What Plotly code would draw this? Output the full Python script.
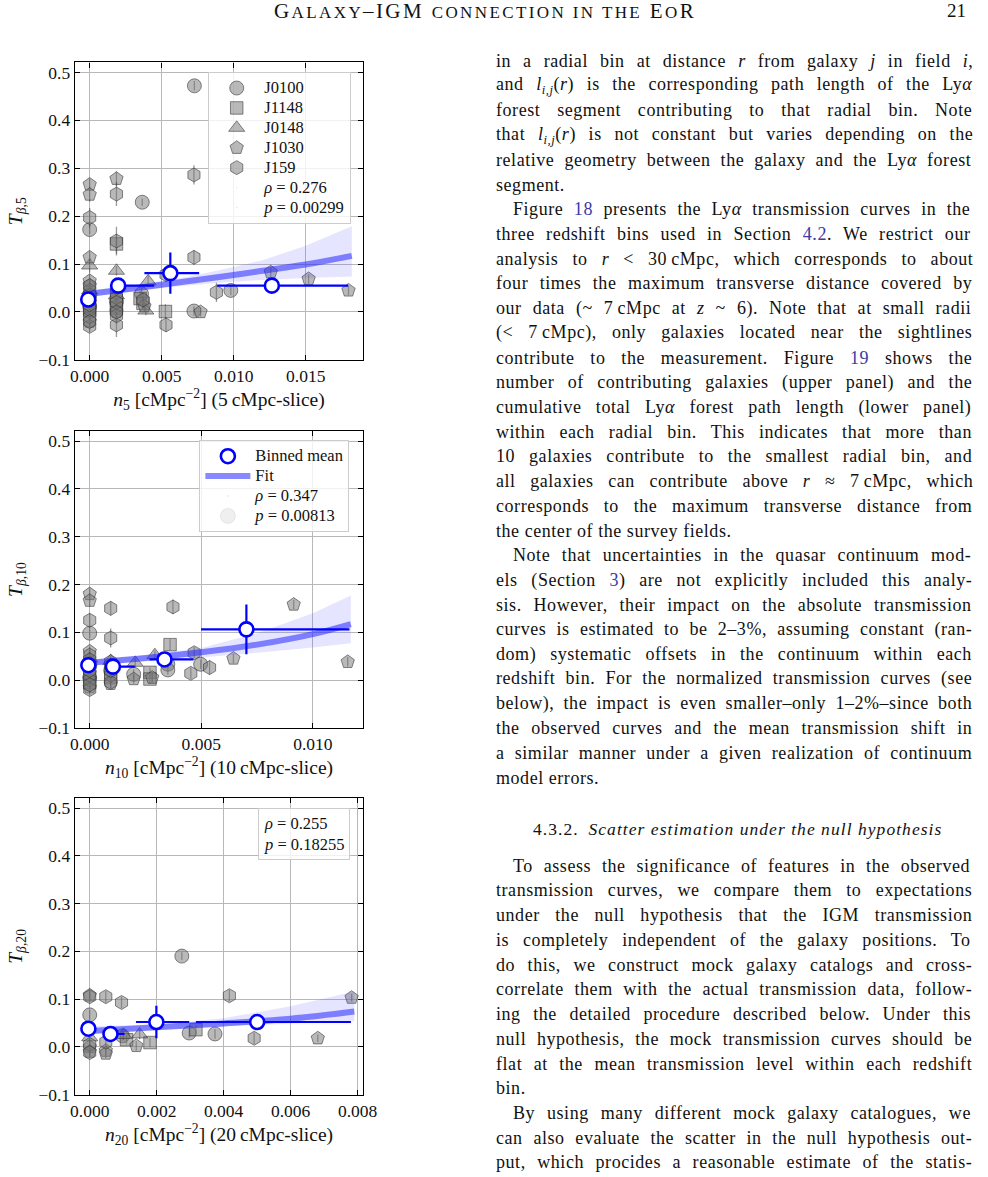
import re
import html
import plotly.graph_objects as go

W, H = 988, 1177


def px(v):
    return v / W


def py(v):
    return 1 - v / H


# ---------------------------------------------------------------- data
fields = ["J0100", "J1148", "J0148", "J1030", "J159"]

# panel 1 : T_beta,5 vs n5
p1_field = (["J0100"] * 9 + ["J1148"] * 6 + ["J0148"] * 6 + ["J1030"] * 14 + ["J159"] * 29)
p1_x = [0.0, 0.00365, 0.00727, 0.00724, 0.0098, 0.0036, 0.0, 0.0, 0.00186,
        0.00186, 0.00526, 0.0035, 0.0, 0.00186, 0.0037,
        0.0, 0.00186, 0.00406, 0.0039, 0.0, 0.00186,
        0.0, 0.0, 0.0, 0.00186, 0.0077, 0.01257, 0.0152, 0.01797, 0.0038, 0.0, 0.0, 0.00186, 0.0, 0.0,
        0.0, 0.00186, 0.00186, 0.00724, 0.00724, 0.0088, 0.0053, 0.00186, 0.0, 0.0053,
        0.0, 0.0, 0.0, 0.0, 0.0, 0.00186, 0.00186, 0.00186, 0.00186, 0.0037,
        0.0, 0.0, 0.0, 0.0, 0.0, 0.0, 0.00186, 0.00186, 0.00186]
p1_y = [0.172, 0.229, 0.472, 0.002, 0.045, 0.038, 0.035, 0.012, 0.022,
        0.142, 0.001, 0.028, 0.003, 0.008, 0.018,
        0.097, 0.086, 0.064, 0.003, 0.045, 0.035,
        0.266, 0.245, 0.114, 0.278, 0.0, 0.083, 0.069, 0.045, 0.012, 0.055, -0.02, 0.0, 0.065, 0.02,
        0.197, 0.246, 0.148, 0.286, 0.114, 0.041, -0.027, -0.027, -0.03, 0.078,
        0.0, 0.028, 0.045, -0.01, 0.01, 0.04, 0.012, 0.05, -0.008, 0.025,
        0.005, 0.015, 0.035, 0.055, -0.02, 0.025, 0.03, 0.02, 0.0]
p1_err = [0.01, 0.008, 0.01, 0.01, 0.01, 0.012, 0.01, 0.01, 0.01,
          0.02, 0.015, 0.015, 0.01, 0.01, 0.012,
          0.015, 0.01, 0.012, 0.01, 0.01, 0.01,
          0.012, 0.015, 0.012, 0.015, 0.01, 0.01, 0.01, 0.01, 0.012, 0.012, 0.012, 0.012, 0.012, 0.012,
          0.02, 0.025, 0.03, 0.02, 0.015, 0.02, 0.015, 0.025, 0.012, 0.015,
          0.015, 0.015, 0.015, 0.015, 0.015, 0.015, 0.015, 0.015, 0.015, 0.015,
          0.012, 0.012, 0.012, 0.012, 0.012, 0.012, 0.012, 0.012, 0.012]

# panel 2 : T_beta,10 vs n10
p2_field = (["J0100"] * 8 + ["J1148"] * 5 + ["J0148"] * 4 + ["J1030"] * 11 + ["J159"] * 20)
p2_x = [0.0, 0.0035, 0.0035, 0.00497, 0.00197, 0.0, 0.00094, 0.0,
        0.0036, 0.0027, 0.0027, 0.0, 0.00094,
        0.00204, 0.00292, 0.0, 0.00094,
        0.0, 0.0, 0.00197, 0.0028, 0.00644, 0.00914, 0.01156, 0.0, 0.0, 0.0, 0.00094,
        0.0, 0.0, 0.00094, 0.00094, 0.00373, 0.00468, 0.00453, 0.00537, 0.0, 0.0, 0.0, 0.0,
        0.00094, 0.00094, 0.00094, 0.0, 0.0, 0.0, 0.00094, 0.00094]
p2_y = [0.098, 0.033, 0.021, 0.033, 0.012, 0.03, 0.02, 0.005,
        0.074, 0.016, 0.002, -0.005, 0.005,
        0.036, 0.052, 0.045, 0.04,
        0.18, 0.166, 0.002, 0.005, 0.045, 0.158, 0.038, 0.06, 0.015, -0.015, -0.008,
        0.125, 0.052, 0.150, 0.088, 0.153, 0.057, 0.014, 0.026, 0.035, 0.0, -0.02, 0.01,
        0.03, 0.01, -0.005, 0.02, -0.01, 0.042, 0.02, 0.038]
p2_err = [0.01, 0.01, 0.01, 0.01, 0.01, 0.01, 0.01, 0.01,
          0.012, 0.01, 0.01, 0.01, 0.01,
          0.01, 0.01, 0.01, 0.01,
          0.012, 0.012, 0.01, 0.01, 0.01, 0.01, 0.01, 0.01, 0.01, 0.01, 0.01,
          0.015, 0.012, 0.015, 0.02, 0.015, 0.012, 0.012, 0.015, 0.012, 0.012, 0.012, 0.012,
          0.012, 0.012, 0.012, 0.01, 0.01, 0.01, 0.01, 0.01]

# panel 3 : T_beta,20 vs n20
p3_field = (["J0100"] * 5 + ["J1148"] * 3 + ["J0148"] * 3 + ["J1030"] * 8 + ["J159"] * 8)
p3_x = [0.0, 0.00098, 0.00275, 0.00297, 0.00374,
        0.0018, 0.00317, 0.0011,
        0.00101, 0.00149, 0.0,
        0.0, 0.00048, 0.00048, 0.00139, 0.00681, 0.00782, 0.0, 0.0,
        0.0, 0.00048, 0.00095, 0.00417, 0.00491, 0.0, 0.0, 0.00048]
p3_y = [0.067, 0.023, 0.19, 0.029, 0.027,
        0.009, 0.036, 0.015,
        0.025, 0.026, 0.02,
        0.108, -0.008, -0.014, 0.002, 0.018, 0.103, 0.0, -0.01,
        0.105, 0.105, 0.093, 0.107, 0.018, 0.005, -0.012, 0.01]
p3_err = [0.01, 0.01, 0.008, 0.01, 0.01,
          0.01, 0.01, 0.01,
          0.01, 0.01, 0.01,
          0.01, 0.01, 0.01, 0.01, 0.008, 0.008, 0.01, 0.01,
          0.012, 0.012, 0.012, 0.012, 0.012, 0.01, 0.01, 0.01]

# binned means
b1_x = [-0.0001, 0.00198, 0.0056, 0.01265]
b1_y = [0.026, 0.055, 0.081, 0.055]
b1_xm = [0.0001, 0.0003, 0.0018, 0.0038]
b1_xp = [0.0001, 0.0025, 0.0020, 0.0053]
b1_ye = [0.006, 0.008, 0.043, 0.006]

b2_x = [-0.00006, 0.00104, 0.00335, 0.00702]
b2_y = [0.031, 0.028, 0.043, 0.106]
b2_xm = [0.0001, 0.0003, 0.00067, 0.00203]
b2_xp = [0.0001, 0.00098, 0.0013, 0.00462]
b2_ye = [0.006, 0.006, 0.006, 0.052]

b3_x = [-0.00004, 0.00062, 0.00199, 0.005]
b3_y = [0.038, 0.027, 0.052, 0.052]
b3_xm = [0.0001, 0.0002, 0.00061, 0.00183]
b3_xp = [0.0001, 0.00042, 0.00098, 0.0028]
b3_ye = [0.015, 0.005, 0.034, 0.006]

# fits and confidence bands
f1_x = [0.0, 0.003, 0.006, 0.009, 0.012, 0.015, 0.0182]
f1_y = [0.038, 0.049, 0.061, 0.073, 0.086, 0.099, 0.117]
f1_hi = [0.045, 0.056, 0.069, 0.087, 0.108, 0.138, 0.179]
f1_lo = [0.032, 0.043, 0.053, 0.061, 0.067, 0.071, 0.074]

f2_x = [0.0, 0.0025, 0.005, 0.0075, 0.010, 0.0117]
f2_y = [0.036, 0.046, 0.058, 0.074, 0.096, 0.117]
f2_hi = [0.042, 0.052, 0.067, 0.098, 0.140, 0.177]
f2_lo = [0.031, 0.039, 0.047, 0.057, 0.068, 0.077]

f3_x = [0.0, 0.002, 0.004, 0.006, 0.0079]
f3_y = [0.033, 0.041, 0.049, 0.059, 0.074]
f3_hi = [0.043, 0.047, 0.060, 0.085, 0.116]
f3_lo = [0.027, 0.036, 0.043, 0.049, 0.053]

rho_text = ["0.276", "0.347", "0.255"]
p_text = ["0.00299", "0.00813", "0.18255"]

x1_ticks = [0.0, 0.005, 0.010, 0.015]
x2_ticks = [0.0, 0.005, 0.010]
x3_ticks = [0.0, 0.002, 0.004, 0.006, 0.008]
y_ticks = [-0.1, 0.0, 0.1, 0.2, 0.3, 0.4, 0.5]

x_titles = ["<i>n</i><sub>5</sub> [cMpc<sup>−2</sup>] (5\u2009cMpc-slice)",
            "<i>n</i><sub>10</sub> [cMpc<sup>−2</sup>] (10\u2009cMpc-slice)",
            "<i>n</i><sub>20</sub> [cMpc<sup>−2</sup>] (20\u2009cMpc-slice)"]
y_titles = ["<i>T</i><sub><i>β</i>,5</sub>",
            "<i>T</i><sub><i>β</i>,10</sub>",
            "<i>T</i><sub><i>β</i>,20</sub>"]

LINK = '<span style="color:#3a3aa8">{}</span>'
body_lines = [
    "in a radial bin at distance <i>r</i> from galaxy <i>j</i> in field <i>i</i>,",
    "and <i>l</i><sub><i>i,j</i></sub>(<i>r</i>) is the corresponding path length of the Ly<i>α</i>",
    "forest segment contributing to that radial bin. Note",
    "that <i>l</i><sub><i>i,j</i></sub>(<i>r</i>) is not constant but varies depending on the",
    "relative geometry between the galaxy and the Ly<i>α</i> forest",
    "segment.",
    "Figure " + LINK.format("18") + " presents the Ly<i>α</i> transmission curves in the",
    "three redshift bins used in Section " + LINK.format("4.2") + ". We restrict our",
    "analysis to <i>r</i> &lt; 30\u2009cMpc, which corresponds to about",
    "four times the maximum transverse distance covered by",
    "our data (~ 7\u2009cMpc at <i>z</i> ~ 6). Note that at small radii",
    "(&lt; 7\u2009cMpc), only galaxies located near the sightlines",
    "contribute to the measurement. Figure " + LINK.format("19") + " shows the",
    "number of contributing galaxies (upper panel) and the",
    "cumulative total Ly<i>α</i> forest path length (lower panel)",
    "within each radial bin. This indicates that more than",
    "10 galaxies contribute to the smallest radial bin, and",
    "all galaxies can contribute above <i>r</i> ≈ 7\u2009cMpc, which",
    "corresponds to the maximum transverse distance from",
    "the center of the survey fields.",
    "Note that uncertainties in the quasar continuum mod-",
    "els (Section " + LINK.format("3") + ") are not explicitly included this analy-",
    "sis. However, their impact on the absolute transmission",
    "curves is estimated to be 2–3%, assuming constant (ran-",
    "dom) systematic offsets in the continuum within each",
    "redshift bin. For the normalized transmission curves (see",
    "below), the impact is even smaller–only 1–2%–since both",
    "the observed curves and the mean transmission shift in",
    "a similar manner under a given realization of continuum",
    "model errors.",
    "To assess the significance of features in the observed",
    "transmission curves, we compare them to expectations",
    "under the null hypothesis that the IGM transmission",
    "is completely independent of the galaxy positions. To",
    "do this, we construct mock galaxy catalogs and cross-",
    "correlate them with the actual transmission data, follow-",
    "ing the detailed procedure described below. Under this",
    "null hypothesis, the mock transmission curves should be",
    "flat at the mean transmission level within each redshift",
    "bin.",
    "By using many different mock galaxy catalogues, we",
    "can also evaluate the scatter in the null hypothesis out-",
    "put, which procides a reasonable estimate of the statis-",
]
para_first = {6, 20, 30, 40}
para_last = {5, 19, 29, 39}
heading = "4.3.2.\u2002<i>Scatter estimation under the null hypothesis</i>"

# ---------------------------------------------------------------- style
SERIF = "Liberation Serif"
symbols = {"J0100": "circle", "J1148": "square", "J0148": "triangle-up",
           "J1030": "pentagon", "J159": "hexagon"}
sizes = {"J0100": 14, "J1148": 12.5, "J0148": 14, "J1030": 14, "J159": 14}
GREY_FILL = "rgba(120,120,120,0.52)"
GREY_EDGE = "rgba(45,45,45,0.55)"
BLUE = "#0000ff"

XL, XR = 72, 366
PANEL_Y = [(63, 363), (435, 734), (805, 1104)]
X_RANGES = [[-0.00104, 0.0190], [-0.000673, 0.01226], [-0.000449, 0.00817]]
Y_RANGE = [-0.1, 0.5207]

fig = go.Figure()

panels = [
    (p1_field, p1_x, p1_y, p1_err, b1_x, b1_y, b1_xm, b1_xp, b1_ye, f1_x, f1_y, f1_hi, f1_lo),
    (p2_field, p2_x, p2_y, p2_err, b2_x, b2_y, b2_xm, b2_xp, b2_ye, f2_x, f2_y, f2_hi, f2_lo),
    (p3_field, p3_x, p3_y, p3_err, b3_x, b3_y, b3_xm, b3_xp, b3_ye, f3_x, f3_y, f3_hi, f3_lo),
]


def lname(t):
    return '<span style="font-size:16.5px">' + t + '</span>'


for k, (pf, pxs, pys, pes, bx, by, bxm, bxp, bye, fx, fy, fhi, flo) in enumerate(panels):
    xa = "x" if k == 0 else "x%d" % (k + 1)
    ya = "y" if k == 0 else "y%d" % (k + 1)
    for f in fields:
        idx = [i for i, v in enumerate(pf) if v == f]
        fig.add_trace(go.Scatter(
            x=[pxs[i] for i in idx], y=[pys[i] for i in idx],
            mode="markers", name=lname(f),
            marker=dict(symbol=symbols[f], size=sizes[f], color=GREY_FILL,
                        line=dict(color=GREY_EDGE, width=1)),
            error_y=dict(type="data", array=[pes[i] for i in idx], color="rgba(70,70,70,0.55)",
                         thickness=1.3, width=0),
            xaxis=xa, yaxis=ya, showlegend=(k == 0), legend="legend", legendrank=fields.index(f) + 1,
            hoverinfo="skip"))
    fig.add_trace(go.Scatter(
        x=fx + fx[::-1], y=fhi + flo[::-1], mode="lines", fill="toself",
        fillcolor="rgba(70,70,255,0.14)", line=dict(width=0), showlegend=False,
        xaxis=xa, yaxis=ya, hoverinfo="skip"))
    fig.add_trace(go.Scatter(
        x=fx, y=fy, mode="lines", line=dict(color="rgba(40,40,255,0.55)", width=6, shape="spline"),
        name=lname("Fit"), showlegend=(k == 1), legend="legend2", legendrank=2,
        xaxis=xa, yaxis=ya, hoverinfo="skip"))
    fig.add_trace(go.Scatter(
        x=bx, y=by, mode="markers", name=lname("Binned mean"),
        marker=dict(symbol="circle", size=14, color="white", line=dict(color=BLUE, width=2.6)),
        error_x=dict(type="data", symmetric=False, array=bxp, arrayminus=bxm, color=BLUE,
                     thickness=2.2, width=0),
        error_y=dict(type="data", array=bye, color=BLUE, thickness=2.2, width=0),
        showlegend=(k == 1), legend="legend2", legendrank=1,
        xaxis=xa, yaxis=ya, hoverinfo="skip"))

fig.add_trace(go.Scatter(x=[None], y=[None], mode="markers", marker=dict(size=2, opacity=0),
                         name=lname("<i>ρ</i> = " + rho_text[0]), legend="legend", legendrank=6,
                         xaxis="x", yaxis="y", showlegend=True))
fig.add_trace(go.Scatter(x=[None], y=[None], mode="markers", marker=dict(size=2, opacity=0),
                         name=lname("<i>p</i> = " + p_text[0]), legend="legend", legendrank=7,
                         xaxis="x", yaxis="y", showlegend=True))
fig.add_trace(go.Scatter(x=[None], y=[None], mode="markers", marker=dict(size=2, opacity=0),
                         name=lname("<i>ρ</i> = " + rho_text[1]), legend="legend2", legendrank=3,
                         xaxis="x2", yaxis="y2", showlegend=True))
fig.add_trace(go.Scatter(x=[None], y=[None], mode="markers",
                         marker=dict(size=15, color="rgba(128,128,128,0.13)",
                                     line=dict(color="rgba(90,90,90,0.1)", width=1)),
                         name=lname("<i>p</i> = " + p_text[1]), legend="legend2", legendrank=4,
                         xaxis="x2", yaxis="y2", showlegend=True))

# ---------------------------------------------------------------- axes
axis_font = dict(family=SERIF, size=17.5, color="#111111")
title_font = dict(family=SERIF, size=19.5, color="#111111")
x_tick_sets = [x1_ticks, x2_ticks, x3_ticks]
layout_axes = {}
for k in range(3):
    top, bot = PANEL_Y[k]
    xs = "xaxis" if k == 0 else "xaxis%d" % (k + 1)
    ys = "yaxis" if k == 0 else "yaxis%d" % (k + 1)
    common = dict(showline=True, linecolor="black", linewidth=1.1, mirror="ticks",
                  ticks="inside", ticklen=5, tickcolor="black", tickwidth=1,
                  showgrid=True, gridcolor="#b8b8b8", gridwidth=1, zeroline=False,
                  tickfont=axis_font)
    layout_axes[xs] = dict(common, domain=[px(XL), px(XR)], range=X_RANGES[k],
                           anchor="y" if k == 0 else "y%d" % (k + 1),
                           tickvals=x_tick_sets[k], tickformat=".3f",
                           title=dict(text=x_titles[k], font=title_font, standoff=6))
    layout_axes[ys] = dict(common, domain=[py(bot), py(top)], range=Y_RANGE,
                           anchor="x" if k == 0 else "x%d" % (k + 1),
                           tickvals=y_ticks, tickformat=".1f",
                           title=dict(text=y_titles[k], font=title_font, standoff=10))

legend_common = dict(xanchor="left", yanchor="top", bgcolor="rgba(255,255,255,0.8)",
                     bordercolor="#cccccc", borderwidth=1,
                     font=dict(family=SERIF, size=13, color="#111111"),
                     itemwidth=45, tracegroupgap=0, traceorder="normal")

# ---------------------------------------------------------------- text column
TW = {' ': 250, '!': 333, '(': 333, ')': 333, ',': 250, '-': 333, '.': 250, ':': 278, ';': 278,
      '<': 564, '>': 564, '=': 564, '%': 833, '~': 541, '≈': 549, '–': 500, '−': 564,
      '\u2009': 200, '\u2002': 500, 'α': 520, 'ρ': 500, 'β': 500,
      'a': 444, 'b': 500, 'c': 444, 'd': 500, 'e': 444, 'f': 333, 'g': 500, 'h': 500, 'i': 278,
      'j': 278, 'k': 500, 'l': 278, 'm': 778, 'n': 500, 'o': 500, 'p': 500, 'q': 500, 'r': 333,
      's': 389, 't': 278, 'u': 500, 'v': 500, 'w': 722, 'x': 500, 'y': 500, 'z': 444,
      'A': 722, 'B': 667, 'C': 667, 'D': 722, 'E': 611, 'F': 556, 'G': 722, 'H': 722, 'I': 333,
      'J': 389, 'K': 722, 'L': 611, 'M': 889, 'N': 722, 'O': 722, 'P': 556, 'Q': 722, 'R': 667,
      'S': 556, 'T': 611, 'U': 722, 'V': 722, 'W': 944, 'X': 722, 'Y': 722, 'Z': 611}
BODY_FS = 18
LS = 0.55


def est_width(markup, fs, ls):
    total, nchar, nspace, depth = 0.0, 0, 0, 0
    for tok in re.split(r"(<[^>]+>)", markup):
        if not tok:
            continue
        if tok.startswith("<"):
            t = tok.lower()
            if t.startswith("<sub") or t.startswith("<sup"):
                depth += 1
            elif t.startswith("</sub") or t.startswith("</sup"):
                depth -= 1
            continue
        sc = 0.7 if depth else 1.0
        for ch in html.unescape(tok):
            total += TW.get(ch, 500) * fs * sc / 1000.0
            nchar += 1
            if ch == " ":
                nspace += 1
    return total + nchar * ls, nspace


TEXT_L, TEXT_R, INDENT = 498.7, 975.0, 18.0
annotations = []
for i, line in enumerate(body_lines):
    if i < 30:
        yc = 60 + i * 24.93
    else:
        yc = 871.7 + (i - 30) * 24.93
    x0 = TEXT_L + (INDENT if i in para_first else 0)
    nat, nsp = est_width(line, BODY_FS, LS)
    ws = 0.0
    if i not in para_last and nsp > 0:
        ws = (TEXT_R - x0 - nat) / nsp
    txt = '<span style="letter-spacing:%.2fpx;word-spacing:%.2fpx">%s</span>' % (LS, ws, line)
    annotations.append(dict(text=txt, x=px(x0), y=py(yc + 1.5), xref="paper", yref="paper",
                            xanchor="left", yanchor="middle", showarrow=False,
                            font=dict(family=SERIF, size=BODY_FS, color="#111111")))

annotations.append(dict(text='<span style="letter-spacing:1.05px">' + heading + '</span>',
                        x=px(747), y=py(836.5), xref="paper", yref="paper",
                        xanchor="center", yanchor="middle", showarrow=False,
                        font=dict(family=SERIF, size=17.5, color="#111111")))

SC = '<span style="font-size:17px">{}</span>'
header = ('G' + SC.format('ALAXY') + '–IGM ' + SC.format('CONNECTION IN THE') + ' E' +
          SC.format('O') + 'R')
annotations.append(dict(text='<span style="letter-spacing:2.4px">' + header + '</span>',
                        x=px(490), y=py(11), xref="paper", yref="paper",
                        xanchor="center", yanchor="middle", showarrow=False,
                        font=dict(family=SERIF, size=21, color="#111111")))
annotations.append(dict(text="21", x=px(982), y=py(11), xref="paper", yref="paper",
                        xanchor="right", yanchor="middle", showarrow=False,
                        font=dict(family=SERIF, size=19, color="#111111")))

annotations.append(dict(text="<i>ρ</i> = " + rho_text[2] + "<br><i>p</i> = " + p_text[2],
                        x=px(259), y=py(815), xref="paper", yref="paper",
                        xanchor="left", yanchor="top", align="left", showarrow=False,
                        bgcolor="rgba(255,255,255,0.8)", bordercolor="#cccccc", borderwidth=1,
                        borderpad=5, font=dict(family=SERIF, size=16.5, color="#111111")))

fig.update_layout(
    width=W, height=H, autosize=False,
    margin=dict(l=0, r=0, t=0, b=0, pad=0),
    paper_bgcolor="white", plot_bgcolor="white",
    font=dict(family=SERIF, color="#111111"),
    legend=dict(legend_common, x=px(208), y=py(72.7)),
    legend2=dict(legend_common, x=px(199), y=py(444)),
    annotations=annotations,
    **layout_axes,
)

# remove the browser's default 8px page margin so the figure sits at (0, 0)
fig.write_html("out.html", config={"displayModeBar": False},
               post_script="document.body.style.margin='0px';")
